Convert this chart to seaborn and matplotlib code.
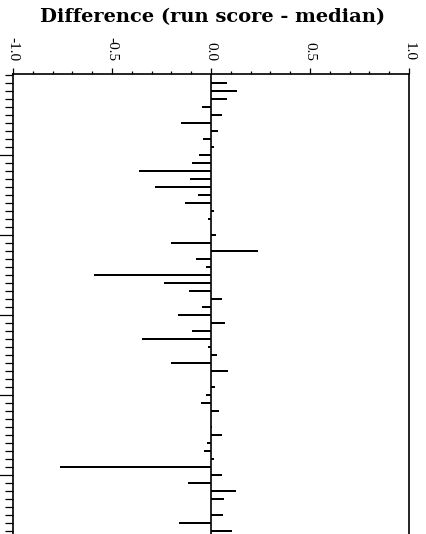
import numpy as np
import pandas as pd
import seaborn as sn
from matplotlib import pyplot as plt

# run index (top to bottom) and difference of each run score from the median
run = list(range(1, 58))
diff = [0.082, 0.133, 0.079, -0.047, 0.057, -0.153, 0.034, -0.039, 0.013, -0.059,
        -0.096, -0.364, -0.106, -0.285, -0.067, -0.133, 0.017, -0.013, 0.0, 0.025,
        -0.203, 0.235, -0.077, -0.027, -0.591, -0.235, -0.111, 0.055, -0.045, -0.166,
        0.069, -0.096, -0.349, -0.013, 0.029, -0.203, 0.086, 0.0, 0.020, -0.027,
        -0.050, 0.042, 0.0, 0.005, 0.057, -0.020, -0.034, 0.013, -0.764, 0.055,
        -0.118, 0.126, 0.065, 0.0, 0.062, -0.163, 0.106]
xticks = [-1.0, -0.5, 0.0, 0.5, 1.0]
xticklabels = ['-1.0', '-0.5', '0.0', '0.5', '1.0']
title = 'Difference (run score - median)'

df = pd.DataFrame({'run': run, 'diff': diff})

sn.set_style('ticks')
plt.rcParams['font.family'] = ['Liberation Serif', 'DejaVu Serif']
plt.rcParams['text.color'] = 'black'
plt.rcParams['xtick.color'] = 'black'
plt.rcParams['ytick.color'] = 'black'

fig = plt.figure(figsize=(4.26, 5.34), dpi=100)
ax = fig.add_axes([0.0305, -0.0537, 0.9296, 0.9157])

sn.barplot(data=df, x='diff', y='run', orient='h', native_scale=True,
           width=0.22, color='black', saturation=1, linewidth=0, ax=ax)
ax.axvline(0, color='black', lw=1.2, zorder=3)

ax.set_xlim(-1, 1)
ax.set_ylim(61, -0.125)
ax.set_xlabel('')
ax.set_ylabel('')

# x axis on top, labels turned
ax.xaxis.tick_top()
ax.set_xticks(xticks)
ax.set_xticklabels(xticklabels, rotation=-90, fontsize=11, color='black')
ax.set_xticks(np.arange(-1, 1.01, 0.1), minor=True)
ax.tick_params(axis='x', which='major', length=4.3, width=0.9, pad=4.5, colors='black')
ax.tick_params(axis='x', which='minor', length=2.2, width=0.9, top=True, bottom=False, colors='black')

# y axis: ticks only
ax.set_yticks(range(10, 61, 10))
ax.set_yticklabels([])
ax.set_yticks(range(0, 61), minor=True)
ax.tick_params(axis='y', which='major', length=10, width=0.9, left=True, colors='black')
ax.tick_params(axis='y', which='minor', length=5.5, width=0.9, left=True, colors='black')

for s in ax.spines.values():
    s.set_visible(True)
    s.set_color('black')
    s.set_linewidth(1.2)

fig.text(0.5, 1 - 17 / 534, title, ha='center', va='center', color='black',
         fontsize=14, fontweight='bold', family=['DejaVu Serif'])

plt.savefig('out.png', dpi=100)
